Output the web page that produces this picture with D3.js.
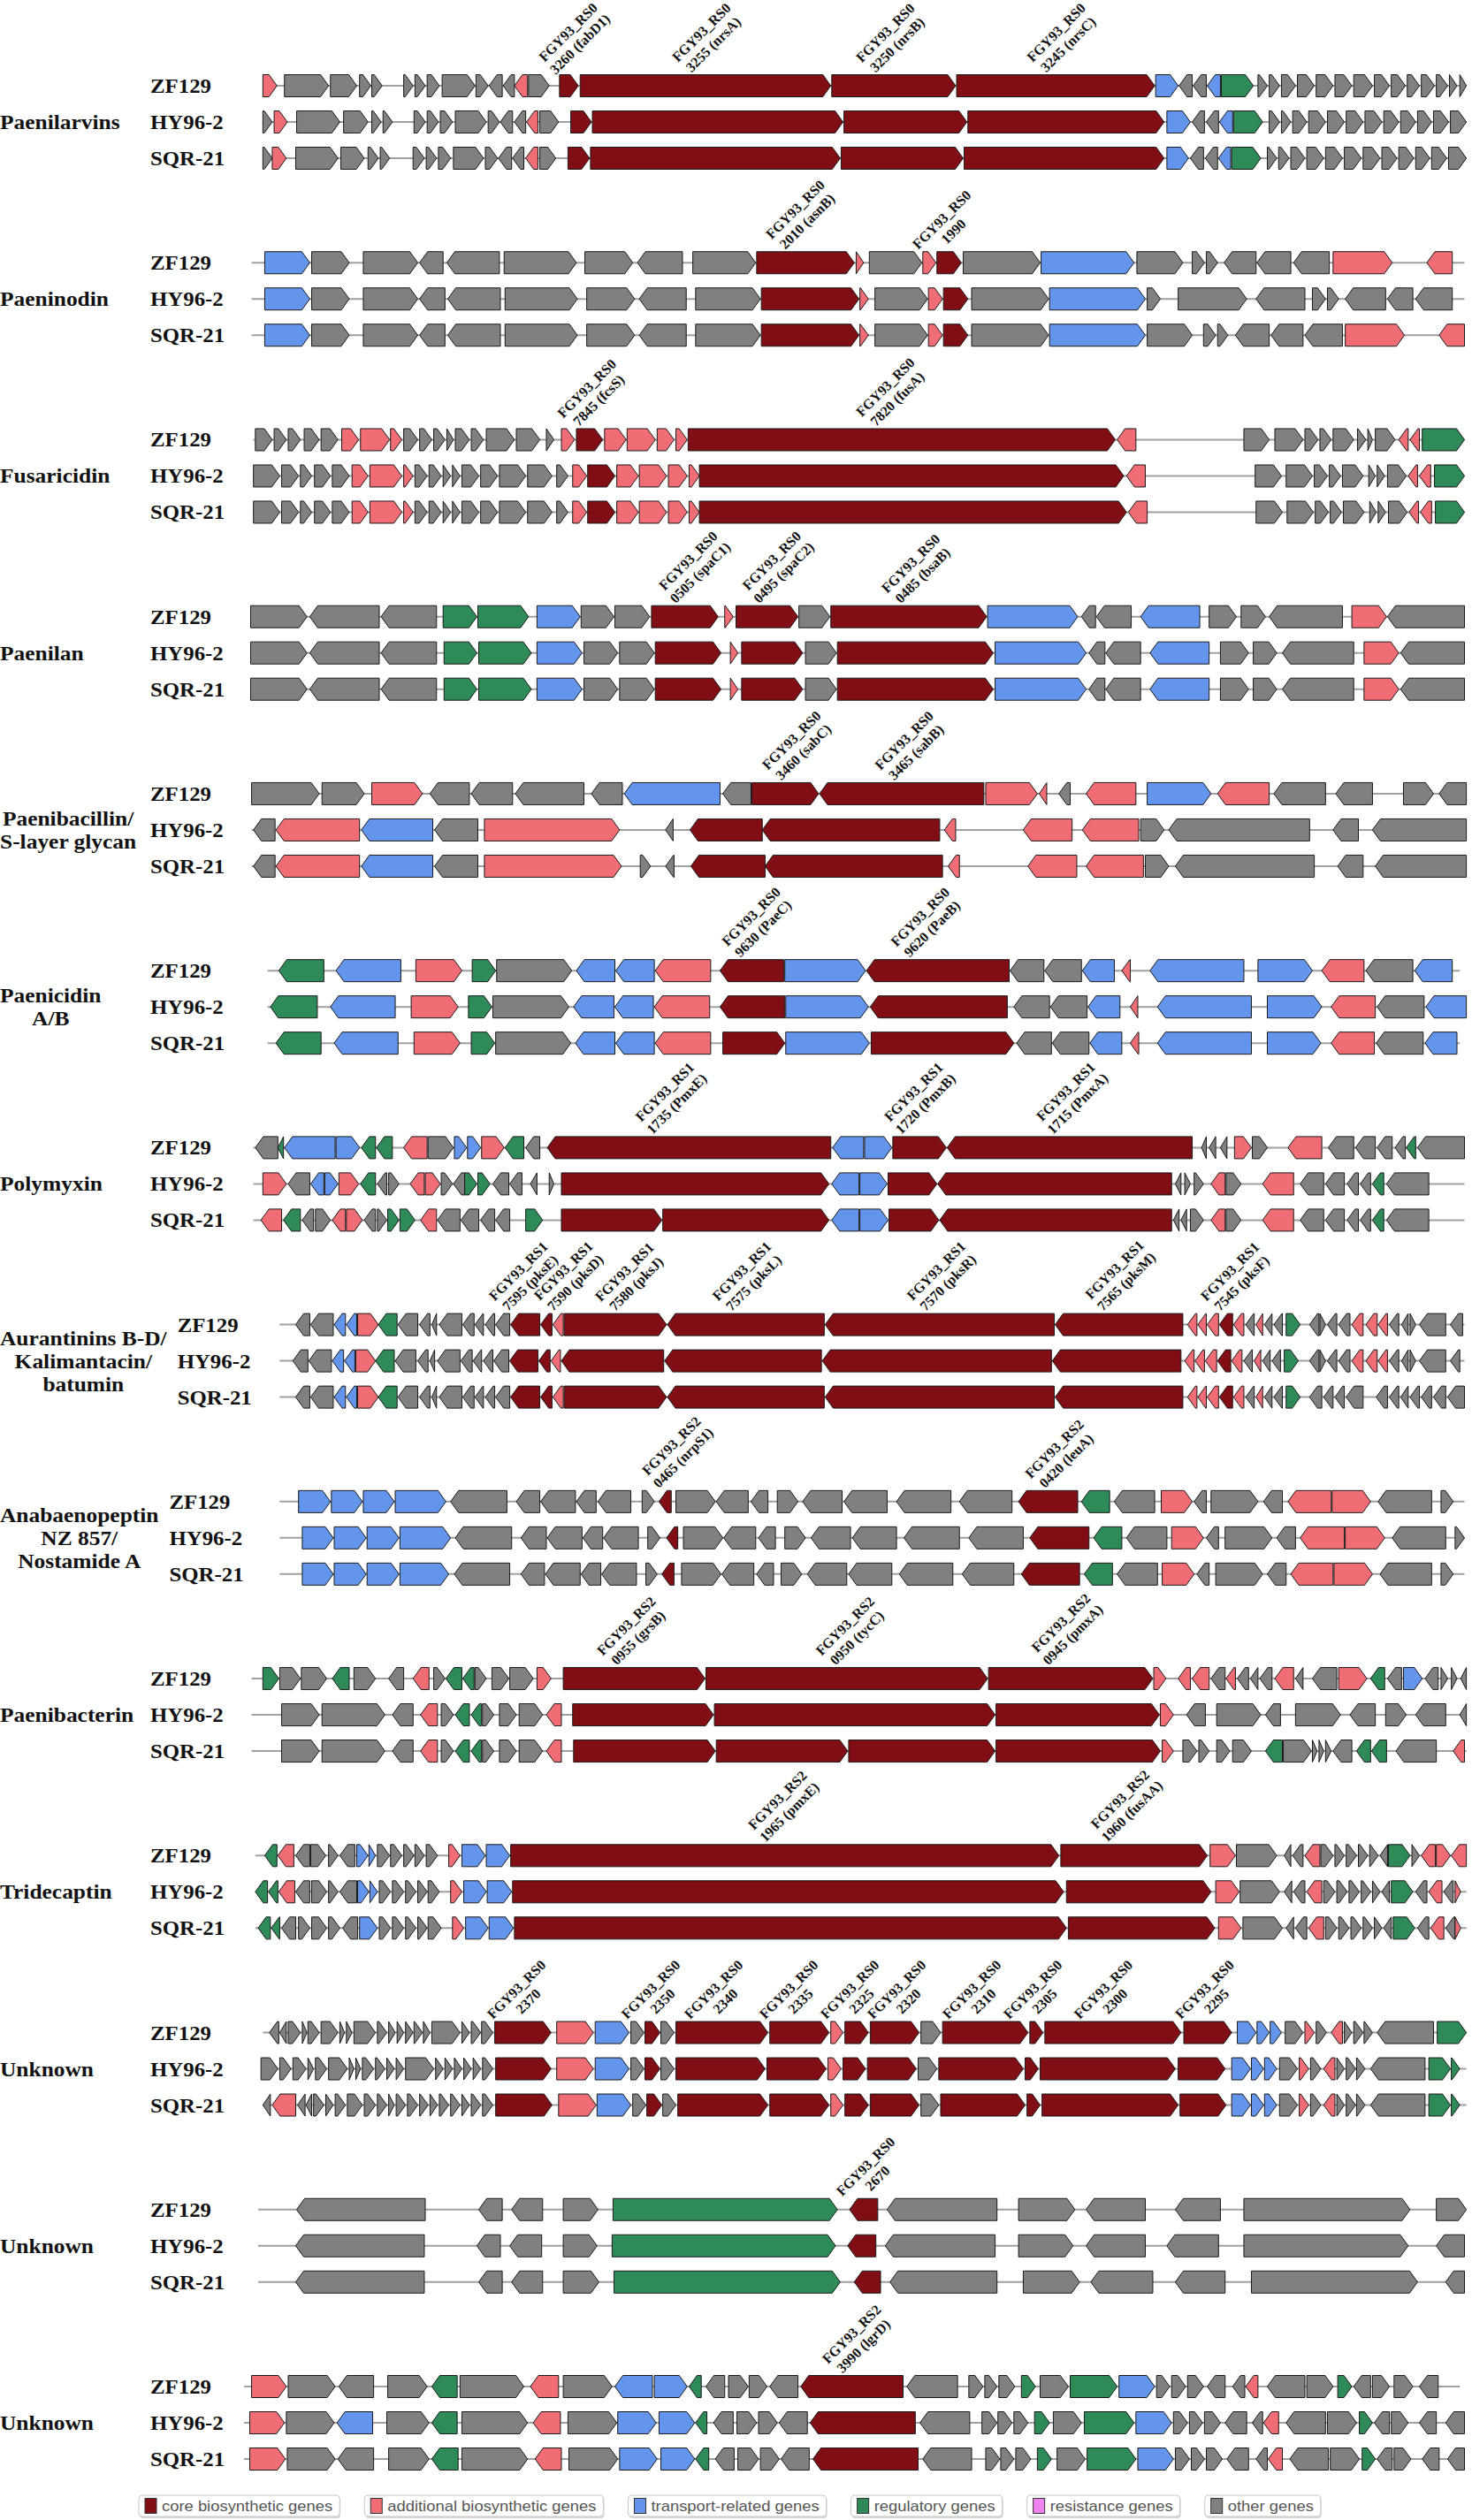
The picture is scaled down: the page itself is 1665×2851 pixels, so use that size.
<!DOCTYPE html>
<html>
<head>
<meta charset="utf-8">
<script src="https://cdn.jsdelivr.net/npm/d3@7"></script>
<style>
  body { margin: 0; background: #fff; }
</style>
</head>
<body>
<svg id="chart"></svg>
<script>
// Biosynthetic gene cluster comparison: 14 loci x 3 strains.
// Gene coords are in "map units" (0..1568 across the page).
// token = type + strand + start-end ; c core, a additional, t transport, r regulatory, s resistance, g other

const strains = ["ZF129", "HY96-2", "SQR-21"];

const clusterNames = [
  ["Paenilarvins"], ["Paeninodin"], ["Fusaricidin"], ["Paenilan"],
  ["Paenibacillin/", "S-layer glycan"], ["Paenicidin", "A/B"], ["Polymyxin"],
  ["Aurantinins B-D/", "Kalimantacin/", "batumin"],
  ["Anabaenopeptin", "NZ 857/", "Nostamide A"],
  ["Paenibacterin"], ["Tridecaptin"], ["Unknown"], ["Unknown"], ["Unknown"],
];

// locus extent (backbone) per cluster
const regions = [
  [280, 1562], [268, 1560], [270, 1560], [267, 1560], [268, 1562], [285, 1555], [270, 1560],
  [298, 1560], [298, 1560], [268, 1562], [272, 1562], [280, 1562], [275, 1560], [260, 1555],
];

const paenilarvinsGenes = [
  "a>280-295 g>303-350 g>352-380 g>383-395 g>396-407 g>430-440 g>442-453 g>455-468 g>471-506 g>507-520 g<521-535 g<536-548 a<548-562 g>563-585 c>596-616 c>618-885 c>886-1018 c>1019-1230 t>1231-1255 g<1256-1270 g<1271-1285 t<1286-1300 r>1301-1335 g>1340-1350 g>1352-1363 g>1365-1380 g>1382-1400 g>1402-1420 g>1422-1440 g>1442-1462 g>1464-1480 g>1482-1497 g>1499-1512 g>1514-1528 g>1530-1542 g>1544-1552 g>1555-1562",
  "g>280-290 a>292-306 g>316-362 g>366-392 g>396-406 g>408-418 g>441-453 g>455-467 g>469-482 g>485-518 g>520-532 g<533-546 g<548-560 a<561-573 g>575-595 c>608-630 c>631-898 c>899-1030 c>1031-1240 t>1243-1268 g<1270-1283 g<1285-1298 t<1299-1313 r>1314-1345 g>1352-1363 g>1365-1375 g>1377-1392 g>1394-1412 g>1414-1432 g>1434-1452 g>1454-1472 g>1474-1490 g>1492-1508 g>1510-1525 g>1527-1543 g>1545-1562",
  "g>280-290 a>290-305 g>315-360 g>363-388 g>392-403 g>405-415 g>440-452 g>454-465 g>467-480 g>483-515 g>517-530 g<531-545 g<546-558 a<560-573 g>575-592 c>605-628 c>629-895 c>896-1026 c>1027-1240 t>1243-1266 g<1268-1282 g<1284-1297 t<1298-1311 r>1312-1343 g>1350-1360 g>1362-1373 g>1375-1390 g>1392-1410 g>1412-1430 g>1432-1450 g>1452-1470 g>1472-1488 g>1490-1506 g>1508-1523 g>1525-1541 g>1543-1562",
];
const paeninodinGenes = [
  "t>282-330 g>332-372 g>387-445 g<447-472 g<476-532 g>537-614 g>623-674 g<679-727 g>738-805 c>806-910 a>912-920 g>926-982 a>983-997 c>998-1024 g>1026-1108 t>1109-1208 g>1211-1260 g>1270-1283 g>1285-1297 g<1304-1338 g<1339-1375 g<1378-1416 a>1420-1483 a<1520-1547",
  "t>282-330 g>332-372 g>387-445 g<447-474 g<477-533 g>538-615 g>625-676 g<681-731 g>741-810 c>811-915 a>916-925 g>932-988 a>989-1004 c>1005-1031 g>1035-1117 t>1118-1220 g>1222-1236 g>1255-1328 g<1338-1390 g>1398-1412 g>1414-1426 g<1433-1476 g<1478-1505 g<1508-1547",
  "t>282-330 g>332-372 g>387-445 g<447-474 g<477-533 g>538-615 g>625-676 g<681-731 g>741-810 c>811-915 a>916-925 g>932-988 a>989-1004 c>1005-1031 g>1035-1117 t>1118-1220 g>1222-1270 g>1282-1295 g>1297-1308 g<1316-1352 g<1354-1388 g<1390-1430 a>1433-1496 a<1533-1560",
];
const fusaricidinGenes = [
  "g>272-290 g>292-305 g>307-320 g>324-340 g>342-360 a>364-382 a>384-415 a>416-428 g>430-445 g>447-460 g>462-474 g>476-483 g>485-500 g>502-515 g>518-548 g>550-575 g>582-590 a>598-612 c>614-642 a>644-667 a>668-698 a>700-718 a>720-732 c>733-1188 a<1190-1210 g>1325-1352 g>1358-1388 g>1390-1404 g>1406-1418 g>1420-1442 g>1446-1455 g>1457-1462 g>1465-1486 a<1490-1500 a<1502-1512 r>1515-1560",
  "g>270-298 g>300-318 g>320-332 g>335-352 g>354-372 a>375-392 a>394-428 a>430-440 g>442-455 g>457-470 g>472-480 g>482-490 g>492-510 g>512-530 g>532-560 g>562-588 g>593-605 a>610-625 c>626-655 a>657-680 a>681-710 a>712-732 a>734-745 c>745-1197 a<1200-1220 g>1337-1365 g>1370-1398 g>1400-1414 g>1416-1428 g>1430-1452 g>1458-1465 g>1467-1475 g>1478-1498 a<1500-1510 a<1512-1524 r>1528-1560",
  "g>270-298 g>300-318 g>320-332 g>335-352 g>354-372 a>375-392 a>394-428 a>430-440 g>442-455 g>457-470 g>472-480 g>482-490 g>492-510 g>512-530 g>532-560 g>562-588 g>593-605 a>610-625 c>626-655 a>657-680 a>681-710 a>712-732 a>734-745 c>745-1200 a<1202-1222 g>1338-1366 g>1371-1399 g>1401-1415 g>1417-1429 g>1431-1453 g>1459-1466 g>1468-1476 g>1479-1499 a<1501-1511 a<1513-1525 r>1529-1560",
];
const paenilanGenes = [
  "g>267-327 g<330-404 g<406-465 r>472-508 r>509-563 t>572-618 g>619-654 g>655-692 c>694-765 a>772-781 c>784-850 g>851-884 c>885-1051 t>1052-1148 g<1152-1167 g<1168-1205 t<1215-1278 g>1288-1317 g>1322-1348 g<1352-1430 a>1440-1477 g<1478-1560",
  "g>267-327 g<330-404 g<406-465 r>473-508 r>510-566 t>572-620 g>622-658 g>660-697 c>698-768 a>778-786 c>790-855 g>858-891 c>892-1058 t>1060-1157 g<1160-1177 g<1178-1215 t<1225-1288 g>1300-1330 g>1335-1360 g<1366-1442 a>1453-1490 g<1492-1560",
  "g>267-327 g<330-404 g<406-465 r>473-508 r>510-566 t>572-620 g>622-658 g>660-697 c>698-768 a>778-786 c>790-855 g>858-891 c>892-1058 t>1060-1157 g<1160-1177 g<1178-1215 t<1225-1288 g>1300-1330 g>1335-1360 g<1366-1442 a>1453-1490 g<1492-1560",
];
const paenibacillinGenes = [
  "g>268-340 g>343-388 a>396-450 g<458-500 g<502-546 g<549-622 g<630-663 t<665-767 g<770-800 c>801-872 c<873-1048 a>1050-1105 a<1107-1115 g<1128-1140 a<1157-1210 t>1222-1290 a<1297-1352 g<1357-1412 g<1423-1462 g>1495-1527 g<1533-1562",
  "g<270-293 a<294-383 t<385-461 g<463-509 a>516-660 g<709-717 c<735-812 c<812-1001 a<1006-1018 a<1090-1142 a<1153-1213 g>1215-1240 g<1245-1395 g<1420-1447 g<1462-1562",
  "g<270-293 a<294-383 t<385-461 g<463-509 a>516-662 g>682-693 g<709-718 c<736-815 c<815-1004 a<1010-1022 a<1095-1147 a<1157-1218 g>1220-1245 g<1252-1400 g<1425-1452 g<1465-1562",
];
const paenicidinGenes = [
  "r<297-345 t<358-427 a>443-492 r>503-528 g>529-609 t<614-655 t<656-697 a<698-757 c<767-835 t>836-922 c<923-1075 g<1076-1112 g<1113-1152 t<1153-1187 a<1195-1204 t<1225-1325 t>1340-1398 a<1408-1453 g<1455-1505 t<1507-1547",
  "r<288-338 t<352-421 a>438-488 r>499-524 g>525-606 t<611-654 t<655-696 a<697-756 c<767-836 t>837-925 c<927-1073 g<1080-1118 g<1119-1158 t<1159-1193 a<1204-1212 t<1233-1333 t>1350-1408 a<1418-1465 g<1467-1517 t<1519-1562",
  "r<294-342 t<356-424 a>441-490 r>502-527 g>528-608 t<613-655 t<656-697 a<698-757 c>770-836 t>837-926 c>928-1080 g<1083-1120 g<1121-1160 t<1161-1195 a<1204-1213 t<1233-1333 t>1350-1407 a<1418-1464 g<1466-1516 t<1518-1552",
];
const polymyxinGenes = [
  "g<272-296 r<296-302 t<303-357 t>358-383 r<385-400 r<401-418 a<430-455 g>456-483 t>484-497 t>498-512 a>513-537 r<538-558 g<560-575 c<583-885 t<887-920 t>921-950 c>951-1008 c<1009-1270 g<1280-1285 g<1288-1295 g<1300-1307 a>1315-1333 g>1334-1350 a<1372-1408 g<1415-1442 g<1444-1465 g<1467-1483 g<1486-1497 r<1498-1508 g<1510-1560",
  "a>280-305 g<307-330 t<331-345 t>346-360 a>361-382 r<384-400 g<402-412 g>414-425 a<437-452 a>453-469 g>470-482 g<483-495 r>495-508 r>509-522 g<525-542 g<543-556 g<565-572 g>585-590 c>598-883 t<886-915 t>916-945 c>946-998 c<999-1248 g<1252-1258 g>1262-1268 g>1272-1282 a<1290-1305 g>1306-1322 a<1345-1378 g<1385-1410 g<1412-1432 g<1435-1447 g<1449-1460 r<1462-1474 g<1477-1522",
  "a<278-300 r<302-320 g<322-334 g>336-352 a<354-368 a>369-386 g<388-400 g>402-412 r>413-425 r>426-442 a<448-465 g<466-490 g<491-510 g<512-527 g<528-543 r>560-578 c>598-705 c>706-883 t<886-915 t>916-946 c>947-1000 c<1001-1248 g<1250-1256 g<1258-1264 g>1268-1282 a<1290-1305 g>1306-1322 a<1345-1378 g<1385-1410 g<1412-1432 g<1435-1447 g<1449-1460 r<1462-1474 g<1477-1522",
];
const aurantininsGenes = [
  "g<315-330 g<331-355 t<356-368 t<369-380 a>381-403 r<403-423 g<424-445 g<447-458 g<460-465 g<468-492 g<493-505 g<506-515 g<517-527 g<528-543 c<544-575 c<576-588 a<589-600 c>601-710 c<711-878 c<879-1123 c<1124-1260 a<1265-1275 a<1276-1285 a<1286-1298 c<1299-1313 a<1314-1325 g<1327-1336 a<1338-1345 g<1347-1355 g<1357-1366 r>1370-1385 g<1395-1405 g>1406-1412 g<1414-1424 g<1426-1438 a<1440-1452 a<1455-1467 a<1468-1478 g<1480-1490 g<1493-1500 g>1502-1508 g<1512-1540 g<1545-1558",
  "g<312-328 g<329-353 t<354-366 t<367-378 a>379-400 r<400-420 g<421-443 g<445-456 g<458-463 g<466-490 g<491-503 g<504-513 g<515-525 g<526-542 c<543-573 c<574-586 a<587-597 c<598-707 c<708-875 c<876-1120 c<1121-1258 a<1262-1272 a<1273-1283 a<1284-1296 c<1297-1311 a<1312-1323 g<1325-1334 a<1336-1343 g<1345-1353 g<1355-1364 r>1368-1383 g<1395-1405 g>1406-1412 g<1414-1424 g<1426-1438 a<1440-1452 a<1455-1467 a<1468-1478 g<1480-1490 g<1493-1500 g>1502-1508 g<1512-1540 g<1545-1555",
  "g<315-330 g<331-355 t<356-368 t<369-380 a>381-403 r<403-423 g<424-445 g<447-458 g<460-465 g<468-492 g<493-505 g<506-515 g<517-527 g<528-543 c<544-575 c<576-588 a<589-600 c>601-710 c<711-878 c<879-1123 c<1124-1260 a<1265-1275 a<1276-1285 a<1286-1298 c<1299-1313 a<1314-1325 g<1327-1336 a<1338-1345 g<1347-1355 g<1357-1366 r>1370-1385 g<1395-1408 g<1410-1420 g<1422-1432 g<1434-1452 g<1466-1478 g<1480-1490 g<1492-1500 g<1502-1512 g<1514-1525 g<1527-1540 g<1542-1560",
];
const anabaenopeptinGenes = [
  "t>318-352 t>353-386 t>387-420 t>421-475 g<480-540 g<550-575 g<576-613 g<614-635 g<637-672 g>684-697 c<702-715 g>720-762 g<763-797 g<800-818 g>828-850 g<855-897 g<899-945 g<955-1013 g<1022-1078 c<1085-1148 r<1152-1182 g<1187-1230 a>1237-1270 g<1272-1285 g>1290-1340 g<1346-1366 a<1372-1418 a>1419-1460 g<1468-1525 g>1535-1548",
  "t>322-355 t>356-390 t>391-425 t>426-480 g<485-545 g<555-582 g<583-620 g<621-642 g<643-680 g>690-703 c<710-722 g>728-770 g<771-805 g<808-826 g>836-858 g<864-906 g<908-955 g<963-1022 g<1032-1090 c<1097-1160 r<1165-1195 g<1200-1243 a>1248-1282 g<1285-1298 g>1305-1355 g<1360-1380 a<1385-1432 a>1433-1475 g<1483-1540 g>1550-1560",
  "t>322-355 t>356-390 t>391-425 t>426-478 g<484-543 g<555-580 g<581-618 g<619-640 g<641-678 g>688-700 c<705-718 g>726-768 g<769-803 g<806-824 g>832-854 g<860-902 g<904-950 g<958-1015 g<1025-1080 c<1088-1150 r<1155-1185 g<1190-1233 a>1238-1272 g<1275-1288 g>1295-1345 g<1350-1370 a<1375-1420 a>1421-1462 g<1470-1525 g>1535-1548",
];
const paenibacterinGenes = [
  "r>280-297 g>298-320 g>321-348 r<354-372 g>377-400 g<414-430 a<440-457 g>462-474 r<475-492 r<493-505 g>506-518 g>524-542 g>543-568 a>572-587 c>600-751 c>752-1052 c>1053-1228 a>1229-1242 a<1255-1268 a<1270-1288 g<1290-1305 a<1306-1316 g<1318-1330 g<1332-1340 g<1342-1355 a<1358-1378 g<1380-1388 g<1398-1424 a>1426-1456 r<1460-1475 g<1478-1493 t>1495-1515 g<1518-1532 g>1535-1542 g>1546-1552 g<1556-1562",
  "g>300-340 g>343-410 g<418-440 a<448-466 g>470-483 r<485-500 r<502-513 g>514-526 g>532-550 g>553-578 a<582-598 c>610-760 c>761-1060 c>1061-1235 a>1236-1250 g<1264-1284 g>1296-1343 g<1348-1364 g>1380-1428 g<1438-1465 g>1476-1498 g<1508-1540 g<1555-1562",
  "g>300-340 g>343-410 g<418-440 a<448-466 g>470-483 r<485-500 r<502-513 g>514-526 g>532-550 g>553-578 a<582-598 c>611-762 c>763-903 c>904-1060 c>1061-1236 a>1238-1250 g>1260-1275 g>1277-1288 g>1296-1310 g>1313-1333 r<1348-1366 g>1367-1397 g>1398-1403 g>1405-1410 g>1412-1418 g<1420-1440 r<1445-1460 r<1461-1477 g<1487-1530 a<1548-1560",
];
const tridecaptinGenes = [
  "r<282-295 a<296-313 g<315-330 g>331-347 g>350-360 g<362-378 t>380-392 t>393-400 g>402-415 g>416-428 g>430-441 g>442-452 g>454-466 a>478-490 t>492-517 t>518-543 c>544-1128 c>1130-1286 a>1289-1316 g>1317-1360 g<1368-1375 g<1377-1388 a<1390-1406 g>1407-1420 g>1422-1432 g>1434-1445 g>1447-1457 g>1459-1468 g<1470-1478 r>1479-1502 g>1504-1512 a<1514-1529 a>1530-1545 a<1546-1562",
  "r<272-285 r<286-296 a<297-314 g<315-330 g>332-348 g>350-360 g<362-380 t>381-393 t>394-402 g>404-416 g>418-430 g>432-443 g>445-455 g>456-468 a>480-492 t>494-518 t>519-545 c>546-1133 c>1136-1290 a>1295-1320 g>1321-1363 g<1368-1376 g<1378-1390 a<1392-1408 g>1410-1422 g>1424-1435 g>1437-1448 g>1450-1460 g>1462-1470 g<1472-1480 r>1482-1505 g<1508-1520 a<1522-1536 g<1538-1548 a>1550-1556",
  "r<275-288 r<289-298 g<300-315 g>318-330 g>332-348 g>350-362 g<365-381 t>383-402 g>404-416 g>418-430 g>432-443 g>445-455 g>456-470 a>482-494 t>496-520 t>521-547 c>548-1136 c>1138-1294 a>1298-1322 g>1324-1366 g<1370-1378 g<1380-1392 a<1394-1410 g>1412-1424 g>1426-1437 g>1439-1450 g>1452-1462 g>1464-1472 g<1474-1482 r>1484-1507 g<1510-1522 a<1524-1538 g<1540-1550 a>1550-1556",
];
const unknown1Genes = [
  "g<287-297 g<298-305 g>307-320 g>322-327 g>328-340 g>342-360 g>362-367 g>369-375 g>377-400 g>402-412 g>414-421 g>423-430 g>432-440 g>441-450 g>451-458 g>460-490 g>492-500 g>502-512 g>513-525 c>527-587 a>593-632 t>634-670 g>672-686 c>687-703 g>704-718 c>720-818 c>820-883 a>885-898 c>900-925 c>927-979 g>981-1002 c>1004-1095 c>1097-1111 c>1113-1258 c>1261-1312 t>1318-1338 t>1339-1352 t>1353-1365 g>1369-1388 a>1390-1400 g>1402-1413 a<1418-1430 g>1432-1440 g>1442-1452 g>1453-1462 g<1467-1527 r>1531-1562",
  "g>278-296 g>298-310 g>312-326 g>328-334 g>336-348 g>350-370 g>372-377 g>379-384 g>386-398 g>400-410 g>412-420 g>422-430 g>432-462 g>464-472 g>474-482 g>484-492 g>494-502 g>504-512 g>514-525 c>528-587 a>593-632 t>634-670 g>672-686 c>687-703 g>704-718 c>720-815 c>817-880 a>882-896 c>898-922 c>924-976 g>978-998 c>1000-1090 c>1092-1106 c>1108-1252 c>1255-1305 t>1312-1332 t>1333-1346 t>1347-1360 g>1363-1382 a>1384-1394 g>1396-1407 a<1410-1422 g>1424-1432 g>1434-1444 g>1445-1454 g<1460-1518 r>1522-1545 r>1546-1555",
  "g<280-288 a<290-315 g<317-325 g<326-332 g>334-345 g>347-355 g>357-368 g>370-386 g>388-400 g>402-412 g>414-420 g>422-432 g>434-445 g>447-456 g>458-466 g>468-478 g>480-490 g>492-500 g>502-512 g>514-525 c>528-588 a>595-635 t>636-672 g>674-688 c>689-705 g>706-720 c>722-818 c>820-883 a>885-898 c>900-925 c>927-979 g>981-1000 c>1002-1092 c>1094-1108 c>1110-1255 c>1257-1306 t>1312-1332 t>1333-1346 t>1347-1360 g>1363-1382 a>1384-1394 g>1396-1407 a<1410-1422 g>1424-1432 g>1434-1444 g>1445-1454 g<1460-1518 r>1522-1545 r>1546-1555",
];
const unknown2Genes = [
  "g<316-453 g<510-535 g<545-578 g>600-637 r>653-892 c<905-935 g<945-1062 g>1085-1145 g<1157-1220 g<1252-1300 g>1325-1502 g>1530-1562",
  "g<315-452 g<508-533 g<543-577 g>600-636 r>652-890 c<903-933 g<943-1060 g>1085-1143 g<1157-1220 g<1243-1298 g>1325-1500 g<1530-1560",
  "g<315-452 g<510-535 g<545-578 g>600-638 r>654-895 c<910-938 g<948-1062 g>1090-1150 g<1162-1228 g<1252-1305 g>1333-1510 g<1540-1560",
];
const unknown3Genes = [
  "a>268-305 g>307-357 g<361-398 g>413-455 r<460-487 g>490-558 a<565-595 g>600-652 t<655-695 t>697-732 r<734-747 g<752-772 g>776-797 g>798-817 g<820-850 c<853-962 g<966-1020 g>1032-1047 g>1049-1062 g>1064-1081 r>1088-1103 g>1108-1138 r>1140-1190 t>1192-1230 g>1232-1246 g>1248-1263 g>1265-1282 g<1286-1305 g<1313-1326 a<1327-1340 g<1350-1390 g>1392-1420 r>1425-1440 g<1442-1460 g>1462-1480 g>1485-1505 g<1512-1532",
  "a>266-303 g>305-356 t<359-397 g>412-457 r<460-487 g>492-562 a<568-597 g>605-657 t>658-699 t>702-740 r<741-753 g<760-781 g>785-806 g>808-828 g<830-860 c<863-975 g<980-1033 g>1046-1062 g>1063-1078 g>1080-1095 r>1102-1118 g>1122-1152 r>1155-1208 t>1210-1248 g>1250-1265 g>1267-1281 g>1283-1300 g<1305-1328 g<1334-1345 a<1346-1362 g<1370-1412 g>1414-1445 r>1448-1462 g<1464-1480 g>1482-1500 g<1512-1530 g<1540-1560",
  "a>266-304 g>306-357 g<360-398 g>414-457 r<460-488 g>492-562 a<570-598 g>606-658 t>660-700 t>704-740 r<741-755 g<762-782 g>786-808 g>810-830 g<832-862 c<866-978 g<983-1035 g>1050-1065 g>1066-1080 g>1082-1098 r>1105-1120 g>1126-1156 r>1158-1210 t>1212-1250 g>1252-1267 g>1269-1283 g>1285-1302 g<1307-1330 g<1338-1350 a<1351-1366 g<1374-1415 g>1417-1448 r>1451-1465 g<1467-1483 g>1485-1503 g<1515-1533 g<1542-1560",
];

const clusterGenes = [
  paenilarvinsGenes, paeninodinGenes, fusaricidinGenes, paenilanGenes, paenibacillinGenes,
  paenicidinGenes, polymyxinGenes, aurantininsGenes, anabaenopeptinGenes, paenibacterinGenes,
  tridecaptinGenes, unknown1Genes, unknown2Genes, unknown3Genes,
];

// gene tags above the ZF129 row: [map position of the tag's lower end, locus prefix, locus / gene name]
const clusterTags = [
  [[580, "FGY93_RS0", "3260 (fabD1)"], [722, "FGY93_RS0", "3255 (nrsA)"], [918, "FGY93_RS0", "3250 (nrsB)"], [1100, "FGY93_RS0", "3245 (nrsC)"]],
  [[822, "FGY93_RS0", "2010 (asnB)"], [978, "FGY93_RS0", "1990"]],
  [[600, "FGY93_RS0", "7845 (fcsS)"], [918, "FGY93_RS0", "7820 (fusA)"]],
  [[708, "FGY93_RS0", "0505 (spaC1)"], [797, "FGY93_RS0", "0495 (spaC2)"], [945, "FGY93_RS0", "0485 (bsaB)"]],
  [[818, "FGY93_RS0", "3460 (sabC)"], [938, "FGY93_RS0", "3465 (sabB)"]],
  [[775, "FGY93_RS0", "9630 (PaeC)"], [955, "FGY93_RS0", "9620 (PaeB)"]],
  [[683, "FGY93_RS1", "1735 (PmxE)"], [948, "FGY93_RS1", "1720 (PmxB)"], [1110, "FGY93_RS1", "1715 (PmxA)"]],
  [[527, "FGY93_RS1", "7595 (pksE)"], [575, "FGY93_RS1", "7590 (pksD)"], [640, "FGY93_RS1", "7580 (pksJ)"], [765, "FGY93_RS1", "7575 (pksL)"], [972, "FGY93_RS1", "7570 (pksR)"], [1162, "FGY93_RS1", "7565 (pksM)"], [1285, "FGY93_RS1", "7545 (pksF)"]],
  [[690, "FGY93_RS2", "0465 (nrpS1)"], [1098, "FGY93_RS2", "0420 (leuA)"]],
  [[642, "FGY93_RS2", "0955 (grsB)"], [875, "FGY93_RS2", "0950 (tycC)"], [1105, "FGY93_RS2", "0945 (pmxA)"]],
  [[803, "FGY93_RS2", "1965 (pmxE)"], [1168, "FGY93_RS2", "1960 (fusAA)"]],
  [[525, "FGY93_RS0", "2370"], [668, "FGY93_RS0", "2350"], [735, "FGY93_RS0", "2340"], [815, "FGY93_RS0", "2335"], [880, "FGY93_RS0", "2325"], [930, "FGY93_RS0", "2320"], [1010, "FGY93_RS0", "2310"], [1075, "FGY93_RS0", "2305"], [1150, "FGY93_RS0", "2300"], [1258, "FGY93_RS0", "2295"]],
  [[897, "FGY93_RS0", "2670"]],
  [[882, "FGY93_RS2", "3990 (lgrD)"]],
];

const legendKeys = ["c", "a", "t", "r", "s", "g"];
const legendLabels = ["core biosynthetic genes", "additional biosynthetic genes", "transport-related genes",
  "regulatory genes", "resistance genes", "other genes"];

// ---------------------------------------------------------------------------
const W = 1665, H = 2851;
const GENE_H = 25, HEAD = 9;
const SERIF = "'Liberation Serif', 'Times New Roman', serif";
const STRETCH = 1.08;          // the source figure's text is slightly widened
const R2 = Math.SQRT1_2;

const color = d3.scaleOrdinal()
  .domain(legendKeys)
  .range(["#810e15", "#f16d75", "#6495ed", "#2e8b57", "#ee82ee", "#808080"]);

const x = d3.scaleLinear().domain([0, 1568]).range([0, W]);
const clusterY = d3.scaleLinear().domain([0, clusterNames.length - 1]).range([138, 2741]);
const rowY = d3.scalePoint().domain(strains).range([-41, 41]);

function parseRow(s) {
  return s.trim().split(/\s+/).map((tok) => {
    const m = tok.match(/^([catrsg])([<>])(\d+)-(\d+)$/);
    return { type: m[1], strand: m[2] === ">" ? 1 : -1, start: +m[3], end: +m[4] };
  });
}

// pentagon arrow, head length capped by the gene length
function arrow(d, cy) {
  const x0 = x(d.start), x1 = x(d.end);
  const h = Math.min(HEAD, x1 - x0);
  const t = cy - GENE_H / 2, b = cy + GENE_H / 2;
  if (d.strand > 0)
    return `M${x0},${t}L${x1 - h},${t}L${x1},${cy}L${x1 - h},${b}L${x0},${b}Z`;
  return `M${x1},${t}L${x0 + h},${t}L${x0},${cy}L${x0 + h},${b}L${x1},${b}Z`;
}

const svg = d3.select("#chart").attr("width", W).attr("height", H)
  .attr("viewBox", `0 0 ${W} ${H}`);
svg.append("rect").attr("width", W).attr("height", H).attr("fill", "#fff");

clusterNames.forEach((names, ci) => {
  const cyAbs = clusterY(ci);
  const g = svg.append("g").attr("class", "cluster").attr("transform", `translate(0,${cyAbs})`);

  // cluster name (multi-line names are centred on their widest line)
  const NAME_STRETCH = 1.06;
  const nameText = g.append("text")
    .attr("transform", `scale(${NAME_STRETCH},1)`)
    .attr("font-family", SERIF).attr("font-weight", "bold").attr("font-size", 24)
    .attr("fill", "#111");
  const lh = 26;
  names.forEach((n, i) => {
    nameText.append("tspan").attr("x", 0)
      .attr("y", (i - (names.length - 1) / 2) * lh + 8).text(n);
  });
  const spans = nameText.selectAll("tspan").nodes();
  const nameW = d3.max(spans, (s) => s.getComputedTextLength());
  if (names.length > 1) {
    nameText.selectAll("tspan").attr("x", nameW / 2);
    nameText.attr("text-anchor", "middle");
  }
  const labelX = Math.max(170, nameW * NAME_STRETCH + 12);

  const [r0, r1] = regions[ci];
  clusterGenes[ci].forEach((rowStr, ri) => {
    const cy = rowY(strains[ri]);
    const genes = parseRow(rowStr);
    const row = g.append("g").attr("class", "row");

    row.append("text")
      .attr("transform", `translate(${labelX},${cy + 8}) scale(${STRETCH},1)`)
      .attr("font-family", SERIF).attr("font-weight", "bold").attr("font-size", 23)
      .attr("fill", "#111").text(strains[ri]);

    row.append("line")
      .attr("x1", x(r0)).attr("x2", x(r1)).attr("y1", cy).attr("y2", cy)
      .attr("stroke", "#a0a0a0").attr("stroke-width", 2);

    row.selectAll("path.gene").data(genes).join("path")
      .attr("class", "gene")
      .attr("d", (d) => arrow(d, cy))
      .attr("fill", (d) => color(d.type))
      .attr("stroke", "#1a1a1a").attr("stroke-width", 1)
      .attr("stroke-linejoin", "miter");
  });

  // rotated, centre-aligned locus tags over the top strain; lowest glyph sits on the gene top
  const top = rowY(strains[0]) - GENE_H / 2;
  const LINE = 19, FS = 16, ASC = 11;
  clusterTags[ci].forEach((d) => {
    const tag = g.append("g").attr("class", "tag");
    const t = tag.append("text")
      .attr("font-family", SERIF).attr("font-weight", "bold").attr("font-size", FS)
      .attr("fill", "#111").attr("text-anchor", "middle");
    const sp = [d[1], d[2]].map((s, i) => t.append("tspan").attr("x", 0).attr("y", i * LINE).text(s));
    const w = sp.map((s) => s.node().getComputedTextLength());
    // lower-left (start) point of each line after rotate(-45)
    const lows = w.map((wi, i) => ({ gx: (-wi / 2 + i * LINE) * R2, gy: (wi / 2 + i * LINE) * R2 }));
    const low = lows[0].gy >= lows[1].gy ? lows[0] : lows[1];
    const ox = x(d[0]) - lows[0].gx;
    let oy = top - 2 - low.gy;
    // keep the upper end of the tag inside the page
    const highest = cyAbs + oy - (w[0] / 2 + ASC) * R2;
    if (highest < 2) oy += 2 - highest;
    tag.attr("transform", `translate(${ox},${oy}) rotate(-45)`);
  });
});

// legend
const legend = svg.append("g").attr("transform", "translate(157,2823)");
let lx = 0;
legendKeys.forEach((k, i) => {
  const item = legend.append("g").attr("transform", `translate(${lx},0)`);
  const txt = item.append("text")
    .attr("transform", "translate(26,17.5) scale(1.15,1)")
    .attr("font-family", "'Liberation Sans', Arial, sans-serif").attr("font-size", 16)
    .attr("fill", "#555").text(legendLabels[i]);
  const tw = txt.node().getComputedTextLength() * 1.15;
  const bw = tw + 34;
  item.insert("rect", "text").attr("x", 1).attr("y", 2).attr("width", bw).attr("height", 24)
    .attr("rx", 4).attr("fill", "#d6d6d6");
  item.insert("rect", "text").attr("width", bw).attr("height", 24).attr("rx", 4)
    .attr("fill", "#fff").attr("stroke", "#c8c8c8");
  item.insert("rect", "text").attr("x", 7).attr("y", 3.5).attr("width", 13).attr("height", 17)
    .attr("fill", color(k)).attr("stroke", "#333").attr("stroke-width", 1);
  lx += bw + 28;
});
</script>
</body>
</html>
